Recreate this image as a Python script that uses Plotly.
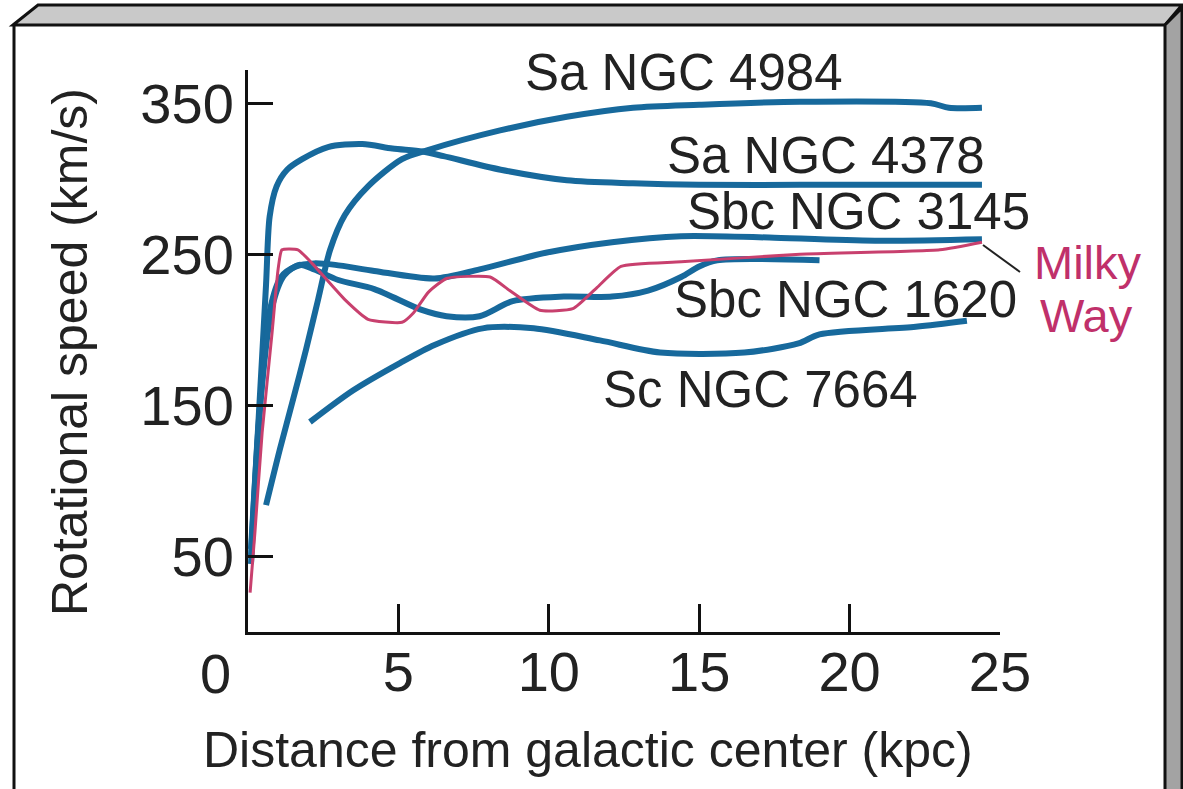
"""Rotation curves of spiral galaxies vs the Milky Way"""
import plotly.graph_objects as go

# rotation curves, distance (kpc) / speed (km/s)
ngc4984_r = [0.6, 1.06, 1.5, 1.93, 2.33, 2.73, 3.22, 3.99, 5.12, 5.98, 8.38, 10.6, 12.8, 15.0, 18.35, 22.7, 23.3, 24.4]
ngc4984_v = [84, 121, 154, 187, 220, 253, 276, 295, 313, 319, 332, 341, 347, 349, 351, 350, 347, 347]

ngc4378_r = [0.1, 0.35, 0.6, 0.72, 0.95, 1.3, 1.8, 2.66, 3.8, 4.8, 5.8, 6.5, 8.4, 10.6, 12.8, 15.0, 18.35, 24.4]
ngc4378_v = [55, 140, 230, 275, 295, 306, 313, 321, 323, 320, 318, 315, 306, 299, 297, 296, 296, 296]

ngc3145_r = [0.1, 0.4, 0.75, 1.1, 1.6, 2.2, 2.9, 4.2, 6.2, 7.7, 9.9, 12.1, 14.4, 17.5, 21.0, 24.4]
ngc3145_v = [50, 150, 215, 235, 242, 244, 243, 239, 234, 240, 251, 258, 262, 261, 259, 260]

ngc1620_r = [0.1, 0.45, 0.8, 1.2, 1.7, 2.2, 3.0, 4.2, 5.8, 6.6, 7.7, 8.8, 10.5, 12.1, 13.3, 14.4, 15.0, 15.6, 19.0]
ngc1620_v = [45, 160, 215, 236, 243, 240, 233, 227, 213, 209, 209, 219, 222, 222, 226, 235, 242, 246, 246]

ngc7664_r = [2.06, 3.5, 5.05, 6.2, 7.8, 9.5, 11.7, 13.7, 16.5, 18.3, 19.0, 22.2, 23.9]
ngc7664_v = [139, 160, 178, 190, 201, 201, 193, 185, 185, 191, 197, 202, 206]

milky_r = [0.07, 0.23, 0.47, 0.8, 0.9, 1.0, 1.13, 1.66, 2.13, 3.22, 3.99, 5.12, 5.49, 6.0, 6.6, 8.05, 8.7,
           9.7, 10.8, 11.6, 12.4, 14.4, 18.35, 23.0, 24.4]
milky_v = [26, 66, 132, 198, 220, 240, 253, 253, 244, 220, 207, 205, 211, 225, 234, 235, 226,
           213, 214, 228, 242, 245, 250, 253, 258]

x_ticks = [0, 5, 10, 15, 20, 25]
x_ticktext = ["", "5", "10", "15", "20", "25"]   # the "0" sits left of the corner, added below
y_ticks = [50, 150, 250, 350]

BLUE = "#17699c"
PINK = "#c8406e"
INK = "#222"
FONT = "Liberation Sans, Arial, sans-serif"
W, H = 1183, 789
L, R, T, B = 248, 183, 70, 157


# pixel -> paper helpers (for labels and the frame)
def px(x):
    return (x - L) / (W - L - R)


def py(y):
    return (H - B - y) / (H - T - B)


fig = go.Figure()

for r, v in [(ngc4984_r, ngc4984_v), (ngc4378_r, ngc4378_v), (ngc3145_r, ngc3145_v),
             (ngc1620_r, ngc1620_v), (ngc7664_r, ngc7664_v)]:
    fig.add_trace(go.Scatter(x=r, y=v, mode="lines", showlegend=False,
                             line=dict(color=BLUE, width=6, shape="spline", smoothing=0.8)))

fig.add_trace(go.Scatter(x=milky_r, y=milky_v, mode="lines", showlegend=False,
                         line=dict(color=PINK, width=3, shape="spline", smoothing=0.5)))

# curve labels
labels = [
    ("Sa NGC 4984", 684, 72),
    ("Sa NGC 4378", 826, 156),
    ("Sbc NGC 3145", 858, 212),
    ("Sbc NGC 1620", 845, 299),
    ("Sc NGC 7664", 760, 389),
]
for text, x, y in labels:
    fig.add_annotation(text=text, xref="paper", yref="paper", x=px(x), y=py(y),
                       xanchor="center", yanchor="middle", showarrow=False,
                       font=dict(family=FONT, size=51, color=INK))
for text, x, y in [("Milky", 1088, 262), ("Way", 1086, 315)]:
    fig.add_annotation(text=text, xref="paper", yref="paper", x=px(x), y=py(y),
                       xanchor="center", yanchor="middle", showarrow=False,
                       font=dict(family=FONT, size=47, color="#c0306a"))
fig.add_shape(type="line", xref="paper", yref="paper",
              x0=px(983), y0=py(245), x1=px(1020), y1=py(272),
              line=dict(color=INK, width=2))

# "0" tick label, shifted left of the axis corner as in the original
fig.add_annotation(text="0", xref="paper", yref="paper", x=px(215), y=py(673),
                   xanchor="center", yanchor="middle", showarrow=False,
                   font=dict(family=FONT, size=56, color=INK))

# axis titles
fig.add_annotation(text="Distance from galactic center (kpc)", xref="paper", yref="paper",
                   x=px(588), y=py(750), xanchor="center", yanchor="middle", showarrow=False,
                   font=dict(family=FONT, size=50, color=INK))
fig.add_annotation(text="Rotational speed (km/s)", xref="paper", yref="paper",
                   x=px(70), y=py(352), xanchor="center", yanchor="middle", showarrow=False,
                   textangle=-90, font=dict(family=FONT, size=50, color=INK))


# bevelled frame around the picture
def path(pts):
    return "M " + " L ".join(f"{px(a)},{py(b)}" for a, b in pts) + " Z"


fig.add_shape(type="path", xref="paper", yref="paper",
              path=path([(13, 25), (38, 5), (1182, 5), (1165, 25)]),
              fillcolor="#c9c9c9", line=dict(color="#111", width=3))
fig.add_shape(type="path", xref="paper", yref="paper",
              path=path([(1165, 25), (1182, 8), (1182, 795), (1165, 795)]),
              fillcolor="#a3a3a3", line=dict(color="#111", width=3))
fig.add_shape(type="line", xref="paper", yref="paper",
              x0=px(14), y0=py(25), x1=px(14), y1=py(795), line=dict(color="#111", width=3))

fig.update_xaxes(range=[0, 25], tickvals=x_ticks, ticktext=x_ticktext, ticks="inside",
                 ticklen=28, tickwidth=2.5, tickcolor="#111", ticklabelstandoff=-11,
                 showline=True, linewidth=3, linecolor="#111",
                 showgrid=False, zeroline=False,
                 tickfont=dict(family=FONT, size=56, color=INK))
fig.update_yaxes(range=[0, 372], tickvals=y_ticks, ticks="inside", ticklen=25, tickwidth=2.5,
                 tickcolor="#111", showline=True, linewidth=3, linecolor="#111",
                 showgrid=False, zeroline=False,
                 tickfont=dict(family=FONT, size=56, color=INK))

fig.update_layout(width=W, height=H, autosize=False,
                  margin=dict(l=L, r=R, t=T, b=B),
                  paper_bgcolor="white", plot_bgcolor="white")

# drop the browser's default 8px body margin so the figure sits at the page origin
fig.write_html("out.html", config={"displayModeBar": False},
               post_script="document.body.style.margin='0';")
